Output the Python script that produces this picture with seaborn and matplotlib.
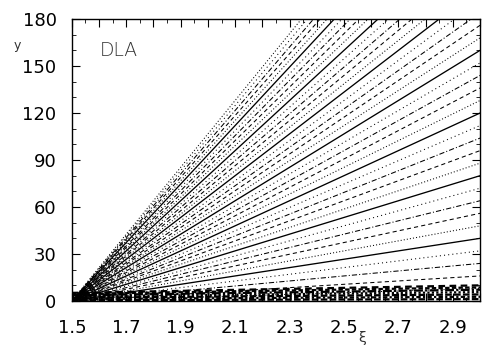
import numpy as np
import pandas as pd
import matplotlib
matplotlib.use("Agg")
import matplotlib.pyplot as plt
import seaborn as sns

# ---- data ----
xi_ends = [1.5, 3.0]                       # every fan line runs from xi=1.5 to xi=3.0
fan_end_values = [8 * k for k in range(1, 41)]   # y at xi=3.0 (8, 16, ..., 320); y=0 at xi=1.5
band_start_values = [0.5, 1.3, 2.1, 2.9, 3.7, 4.5, 5.2]   # dense band near y=0
band_end_values = [1.2, 2.7, 4.2, 5.7, 7.2, 8.7, 10.0]
x_tick_values = [1.5, 1.6, 1.7, 1.8, 1.9, 2.0, 2.1, 2.2, 2.3, 2.4, 2.5, 2.6, 2.7, 2.8, 2.9, 3.0]
x_tick_labels = ["1.5", "", "1.7", "", "1.9", "", "2.1", "", "2.3", "", "2.5", "", "2.7", "", "2.9", ""]
y_tick_values = [0, 30, 60, 90, 120, 150, 180]
y_tick_labels = ["0", "30", "60", "90", "120", "150", "180"]

sns.set_theme(style="ticks")
plt.rcParams["font.family"] = ["DejaVu Sans"]

fig = plt.figure(figsize=(4.82, 3.49), dpi=100)
ax = fig.add_axes([0.149, 0.1375, 0.847, 0.808])

styles = {
    0: "-",
    1: (0, (1, 2)),
    2: (0, (4, 3)),
    3: (0, (5, 2, 1, 2)),
    4: (0, (1, 3)),
}

for i, end in enumerate(fan_end_values):
    k = i + 1
    df = pd.DataFrame({"xi": xi_ends, "y": [0.0, end]})
    key = k % 5
    if k == len(fan_end_values):
        key = 1
    ls = styles[key]
    lw = 0.95 if key == 0 else 0.75
    sns.lineplot(data=df, x="xi", y="y", ax=ax, color="black", linewidth=lw,
                 linestyle=ls, legend=False)

band_styles = [(0, (3, 1)), (0, (2, 1, 1, 1)), (0, (3, 1)), (0, (1, 1)),
               (0, (4, 1, 1, 1)), (0, (2, 1)), (0, (3, 2))]
for s, e, ls in zip(band_start_values, band_end_values, band_styles):
    df = pd.DataFrame({"xi": xi_ends, "y": [s, e]})
    sns.lineplot(data=df, x="xi", y="y", ax=ax, color="black", linewidth=1.6,
                 linestyle=ls, legend=False)

ax.set_xlim(1.5, 3.0)
ax.set_ylim(0, 180)
ax.set_xticks(x_tick_values)
ax.set_xticklabels(x_tick_labels)
ax.set_xticks(np.arange(1.55, 3.0, 0.1), minor=True)
ax.set_yticks(y_tick_values)
ax.set_yticklabels(y_tick_labels)
ax.set_yticks(np.arange(10, 180, 10), minor=True)

ax.tick_params(axis="both", which="major", direction="in", length=6, width=0.8,
               top=True, right=True, labelsize=13, colors="black")
ax.tick_params(axis="both", which="minor", direction="in", length=3, width=0.7,
               top=True, right=True)
ax.tick_params(axis="x", which="major", pad=13)
ax.tick_params(axis="y", which="major", pad=11)
for sp in ax.spines.values():
    sp.set_visible(True)
    sp.set_color("black")
    sp.set_linewidth(1.0)

ax.set_xlabel("")
ax.set_ylabel("")
fig.text(14 / 482, 1 - 45 / 349, "y", fontsize=9, ha="left", va="center", color="#333333")
fig.text(362 / 482, 1 - 338 / 349, "ξ", fontsize=10, ha="center", va="center", color="#333333")
ax.text(0.068, 0.888, "DLA", transform=ax.transAxes, fontsize=13.5, ha="left", va="center",
        color="#333333", fontweight="light")

fig.savefig("out.png", dpi=100)
